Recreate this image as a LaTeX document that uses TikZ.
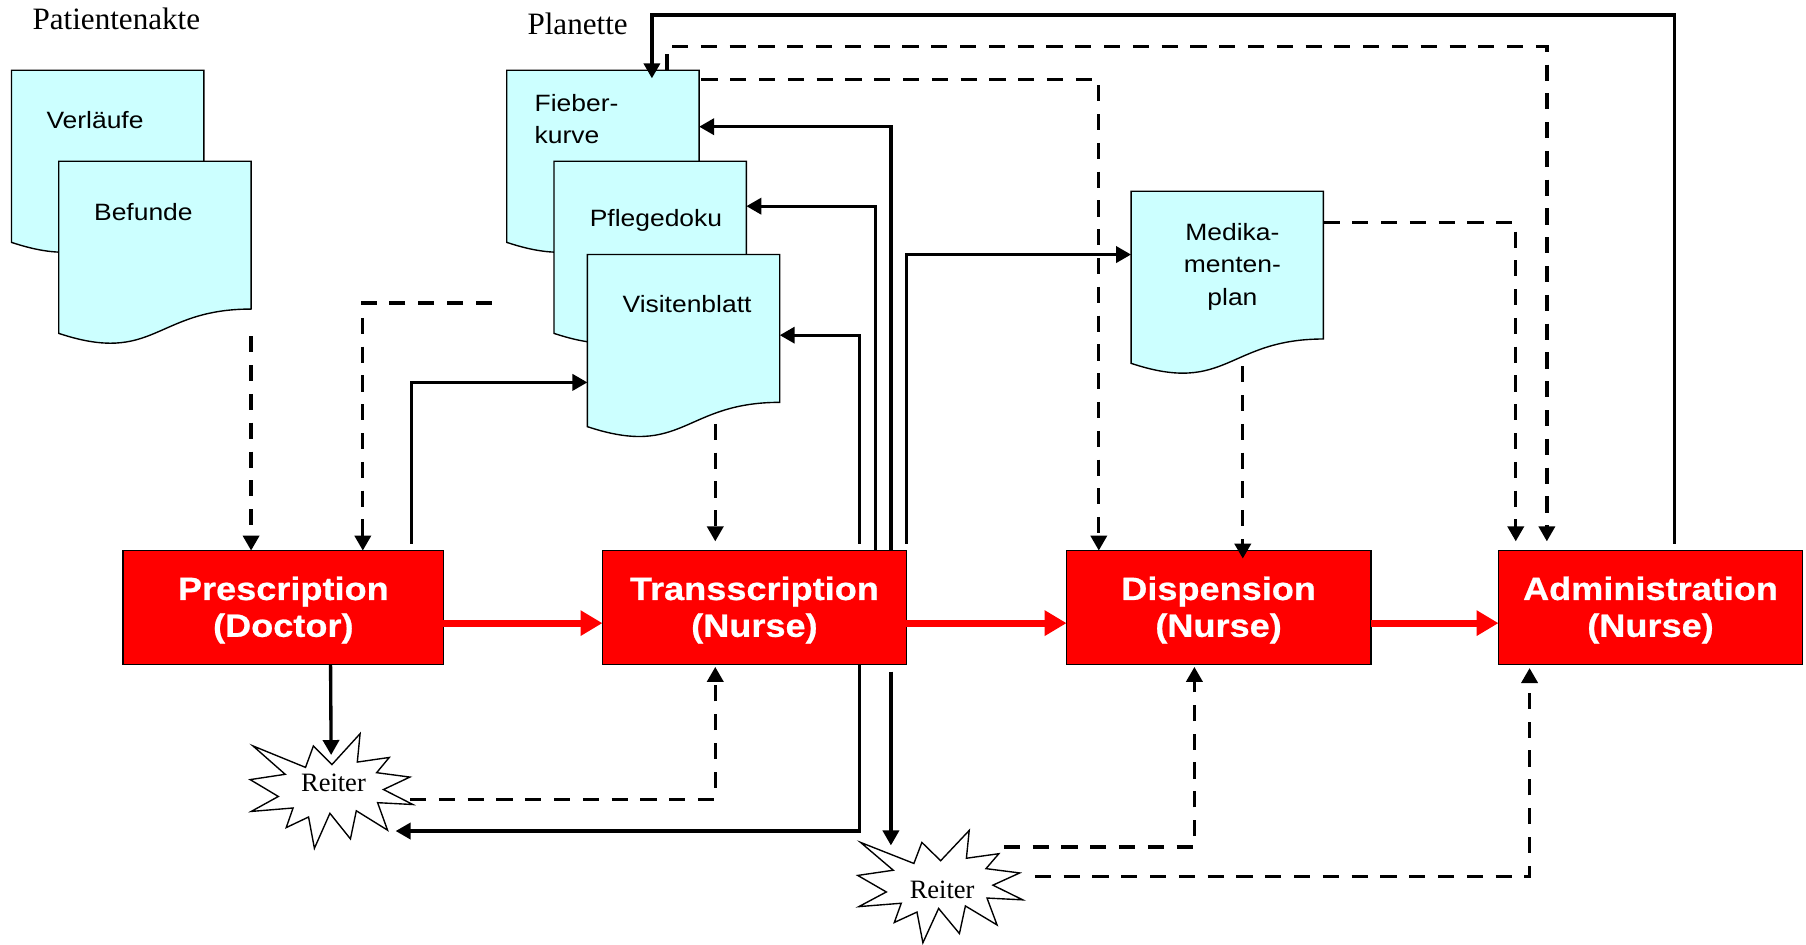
\documentclass[tikz,border=0pt]{standalone}
\usepackage{fontspec}
\setmainfont{Liberation Serif}
\newfontfamily\sansfnt[FakeStretch=1.12]{Liberation Sans}
\newfontfamily\boxfnt[FakeStretch=1.12, BoldFeatures={FakeBold=0.7}]{Liberation Sans}
\usetikzlibrary{calc,arrows.meta}
\definecolor{docfill}{HTML}{CCFFFF}
\definecolor{boxred}{HTML}{FF0000}
\tikzset{
  docline/.style={fill=docfill, draw=black, line width=1.2pt},
  docframe/.style={rectangle, draw=none, inner sep=0pt, outer sep=0pt, minimum width=167pt, minimum height=160pt, anchor=north west},
  doctext/.style={font=\sansfnt\fontsize{20.5}{27.5}\selectfont, inner sep=0pt},
  procbox/.style={draw=black, line width=1.5pt, fill=boxred, text=white, font=\boxfnt\bfseries\fontsize{28}{32}\selectfont, align=center, minimum height=99pt, inner sep=0pt, outer sep=0pt, anchor=north west},
  starframe/.style={rectangle, draw=none, inner sep=0pt, outer sep=0pt, anchor=north west},
  starline/.style={fill=white, draw=black, line width=1.2pt, line join=miter},
  serlabel/.style={inner sep=0pt, anchor=base},
  conn/.style={draw=black, line width=2.9pt, -{Triangle[length=13pt,width=14pt]}},
  dconn/.style={conn, dash pattern=on 14pt off 11pt},
  redarr/.style={draw=boxred, line width=6pt, -{Triangle[length=19pt,width=21pt]}}
}
\newcommand\twolines[2]{\raisebox{-3pt}[\height][\depth]{\begin{tabular}{@{}c@{}}#1\\#2\end{tabular}}}
\newcommand\docshape[1]{%
  \filldraw[docline] (#1.north west) -- (#1.north east)
    -- ($(#1.north east)!0.802!(#1.south east)$)
    .. controls ($(#1.north)!0.802!(#1.south)$) and ($(#1.north)!1.1075!(#1.south)$)
    .. ($(#1.north west)!0.934!(#1.south west)$) -- cycle;}
\newcommand\reiterstar[3]{%
  \begin{scope}[shift={(#1.north west)}, x=#2pt, y=-#3pt]
  \filldraw[starline] (0.5047,0.2734) -- (0.3916,0.1111) -- (0.3434,0.2975) -- (0.0220,0.1111)
    -- (0.2191,0.3575) -- (0.0049,0.4036) -- (0.1772,0.5500) -- (0.0113,0.6800)
    -- (0.2672,0.6500) -- (0.2254,0.8203) -- (0.3620,0.7282) -- (0.3977,1.0)
    -- (0.4925,0.6962) -- (0.6180,0.9185) -- (0.6539,0.6741) -- (0.8448,0.8424)
    -- (0.7842,0.6039) -- (1.0,0.6200) -- (0.8199,0.4898) -- (0.9814,0.3816)
    -- (0.7781,0.3434) -- (0.8556,0.2111) -- (0.6600,0.2513) -- (0.6770,0.0049) -- cycle;
  \end{scope}}
\begin{document}
\begin{tikzpicture}[x=1pt, y=-1pt, line join=miter]
\useasboundingbox (0,0) rectangle (1568,820);

% titles
\node[serlabel, font=\fontsize{27}{30}\selectfont] (patT) at (101,26) {Patientenakte};
\node[serlabel, font=\fontsize{27}{30}\selectfont] (plaT) at (501.5,30) {Planette};

% Patientenakte documents
\node[docframe] (verl) at (10,61) {};
\docshape{verl}
\node[doctext] (verlT) at (82.5,104) {Verläufe};
\node[docframe] (bef) at (51,140) {};
\docshape{bef}
\node[doctext] (befT) at (124.5,184) {Befunde};

% Planette documents
\node[docframe] (fie) at (440,61) {};
\docshape{fie}
\node[doctext, anchor=west, align=left] (fieT) at (464,103.5) {Fieber-\\kurve};
\node[docframe] (pfl) at (481,140) {};
\docshape{pfl}
\node[doctext] (pflT) at (569.5,191.5) {Pflegedoku};
\node[docframe] (vis) at (510,221) {};
\docshape{vis}
\node[doctext] (visT) at (596.5,264) {Visitenblatt};
\node[docframe] (med) at (982,166) {};
\docshape{med}
\node[doctext, align=center, font=\sansfnt\fontsize{20.5}{28}\selectfont] (medT) at (1070,231.5) {Medika-\\menten-\\plan};

% process boxes
\node[procbox, minimum width=278pt] (pres) at (107,478) {\twolines{Prescription}{(Doctor)}};
\node[procbox, minimum width=264pt] (trans) at (523,478) {\twolines{Transscription}{(Nurse)}};
\node[procbox, minimum width=264pt] (disp) at (926,478) {\twolines{Dispension}{(Nurse)}};
\node[procbox, minimum width=264pt] (admin) at (1301,478) {\twolines{Administration}{(Nurse)}};

% Reiter stars
\node[starframe, minimum width=142pt, minimum height=100pt] (r1) at (216.5,636.5) {};
\reiterstar{r1}{142}{100}
\node[serlabel, font=\fontsize{23}{26}\selectfont] (r1T) at (289.5,687.5) {Reiter};
\node[starframe, minimum width=144pt, minimum height=98pt] (r2) at (744,720.5) {};
\reiterstar{r2}{144}{98}
\node[serlabel, font=\fontsize{23}{26}\selectfont] (r2T) at (818,780) {Reiter};

% red main flow
\draw[redarr] ($(pres.north east)+(0,63)$) -- ($(trans.north west)+(0,63)$);
\draw[redarr] ($(trans.north east)+(0,63)$) -- ($(disp.north west)+(0,63)$);
\draw[redarr] ($(disp.north east)+(0,63)$) -- ($(admin.north west)+(0,63)$);

% connectors above
\draw[dconn] ($(bef.north east)+(0,152)$) -- (bef.east |- pres.north);
\coordinate (dangle) at (427,263);
\draw[dconn] (dangle) -| ($(pres.north west)+(208,0)$);
\draw[conn] ($(pres.north west)+(250,-6)$) |- ($(vis.north west)+(0,111)$);
\draw[dconn] ($(vis.north west)+(111,147)$) -- ($(trans.north west)+(98,-8)$);
\draw[conn] ($(trans.north west)+(223,-6)$) |- ($(vis.north east)+(0,70)$);
\draw[conn] ($(trans.north west)+(237,0)$) |- ($(pfl.north east)+(0,39)$);
\draw[conn] ($(trans.north west)+(250.5,0)$) |- ($(fie.north east)+(0,49)$);
\draw[conn] ($(trans.north east)+(0,-6)$) |- ($(med.north west)+(0,55)$);
\draw[dconn] ($(fie.north east)+(2,8)$) -| ($(disp.north west)+(28,0)$);
\draw[dconn] ($(fie.north west)+(139,0)$) -- ++(0,-20.5) -| ($(admin.north west)+(42,-8)$);
\draw[conn] ($(admin.north west)+(153,-6)$) |- ($(fie.north west)+(126,-48)$) -- ($(fie.north west)+(126,7)$);
\draw[dconn] ($(med.north east)+(0,27)$) -| ($(admin.north west)+(15,-8)$);
\draw[dconn] ($(med.north west)+(97,152)$) -- ($(disp.north west)+(153,7)$);

% connectors below
\draw[conn] ($(pres.south west)+(180,0)$) -- ($(r1.north west)+(71,19)$);
\draw[dconn] ($(r1.north west)+(139.5,57.5)$) -| ($(trans.south west)+(98,2)$);
\draw[conn] ($(trans.south west)+(223,0)$) |- ($(r1.north west)+(127,85)$);
\draw[conn] ($(trans.south west)+(250.5,6)$) -- ($(r2.north west)+(29.5,13.5)$);
\draw[dconn] ($(r2.north west)+(127.5,15)$) -| ($(disp.south west)+(111,2)$);
\draw[dconn] ($(r2.north west)+(154.5,40.5)$) -| ($(admin.south west)+(27,3)$);
\end{tikzpicture}
\end{document}
